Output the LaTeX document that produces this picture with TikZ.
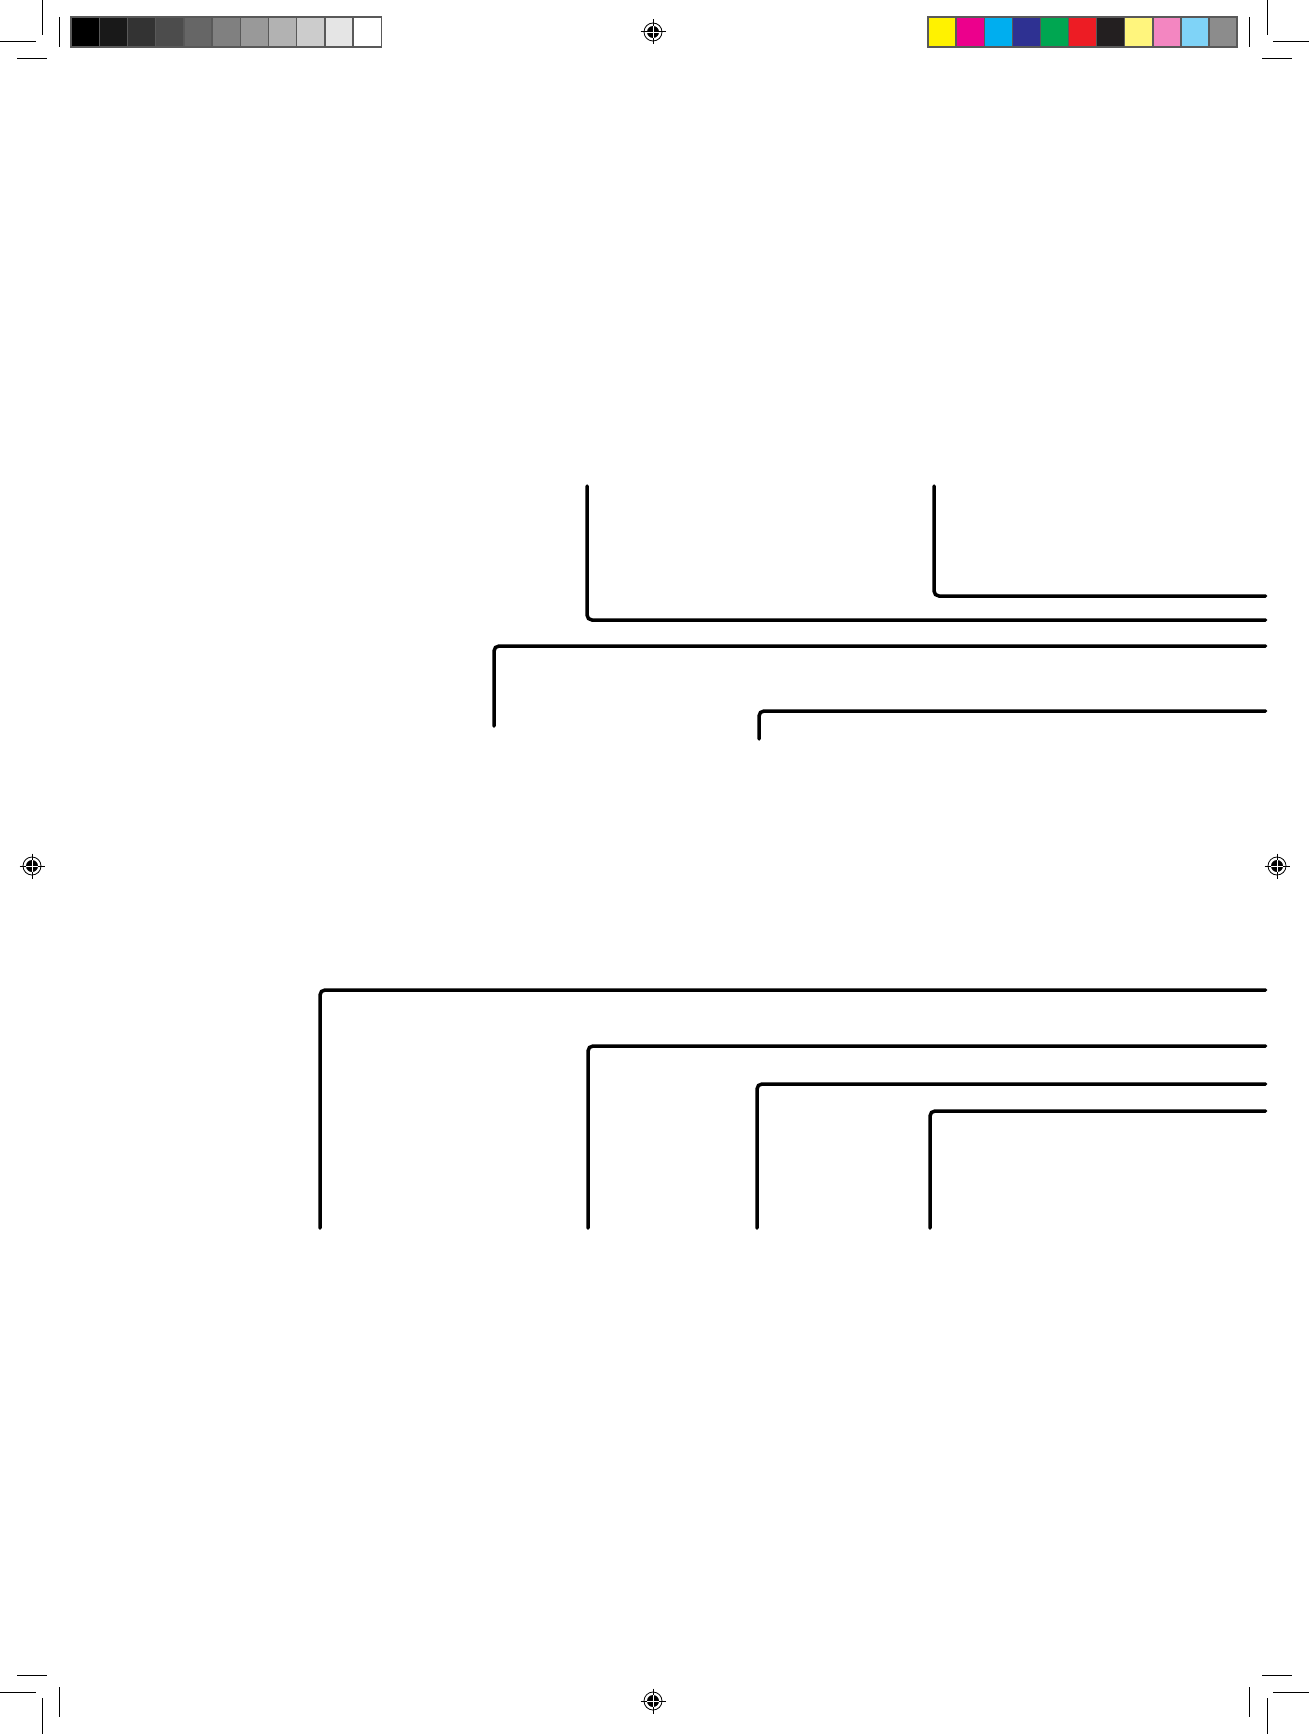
\documentclass[tikz,border=0pt]{standalone}
\begin{document}
\begin{tikzpicture}[x=1pt,y=-1pt,
  leader/.style={line width=3.5pt, rounded corners=5pt, line cap=round},
  crop/.style={line width=1pt},
  swatch/.style={draw=black!65, line width=1.4pt},
  regmark/.pic={
    \draw[line width=0.8pt] (0,0) circle (9pt);
    \fill (0,0) circle (6pt);
    \draw[line width=1pt] (-12.5,0)--(12.5,0) (0,-12.5)--(0,12.5);
    \draw[white, line width=0.7pt] (-6,0)--(6,0) (0,-6)--(0,6);
  }]
\useasboundingbox[fill=white] (0,0) rectangle (1309,1734);

% crop marks top-left
\draw[crop] (42,0)--(42,35) (0,42)--(36,42) (17,59)--(47,59) (59,17)--(59,47);
% crop marks top-right
\draw[crop] (1267,0)--(1267,35) (1273,42)--(1309,42) (1262,59)--(1292,59) (1249,17)--(1249,47);
% crop marks bottom-left
\draw[crop] (42,1698)--(42,1734) (0,1692)--(36,1692) (17,1675)--(47,1675) (59,1687)--(59,1717);
% crop marks bottom-right
\draw[crop] (1267,1698)--(1267,1734) (1273,1692)--(1309,1692) (1262,1675)--(1292,1675) (1249,1687)--(1249,1717);

% grey scale bar
\foreach \i/\c in {0/100,1/90,2/80,3/70,4/60,5/50,6/40,7/30,8/20,9/10,10/0}{
  \filldraw[swatch, fill=black!\c] ({71+\i*28.2},17) rectangle ({71+(\i+1)*28.2},47);
}
% colour bar
\definecolor{cY}{HTML}{FFF200}
\definecolor{cM}{HTML}{EC008C}
\definecolor{cC}{HTML}{00AEEF}
\definecolor{cB}{HTML}{2E3192}
\definecolor{cG}{HTML}{00A651}
\definecolor{cR}{HTML}{ED1C24}
\definecolor{cK}{HTML}{231F20}
\definecolor{cLY}{HTML}{FFF57D}
\definecolor{cLM}{HTML}{F386C1}
\definecolor{cLC}{HTML}{7FD3F7}
\definecolor{cGr}{HTML}{8C8C8C}
\foreach \i/\c in {0/cY,1/cM,2/cC,3/cB,4/cG,5/cR,6/cK,7/cLY,8/cLM,9/cLC,10/cGr}{
  \filldraw[swatch, fill=\c] ({928+\i*28.1},17) rectangle ({928+(\i+1)*28.1},47);
}

% registration marks
\pic at (653,32) {regmark};
\pic at (32,866) {regmark};
\pic at (1277,866) {regmark};
\pic at (653,1701) {regmark};

% upper leader lines
\coordinate (ra) at (1265.5,620);
\coordinate (rb) at (1265.5,596);
\coordinate (rc) at (1265.5,646);
\coordinate (rd) at (1265.5,711);
\draw[leader] (587,486) |- (ra);
\draw[leader] (934,486) |- (rb);
\draw[leader] (494,726) |- (rc);
\draw[leader] (759,739) |- (rd);

% lower leader lines
\coordinate (re) at (1265.5,990);
\coordinate (rf) at (1265.5,1046);
\coordinate (rg) at (1265.5,1084);
\coordinate (rh) at (1265.5,1111);
\draw[leader] (320,1228) |- (re);
\draw[leader] (588,1228) |- (rf);
\draw[leader] (757,1228) |- (rg);
\draw[leader] (930,1228) |- (rh);
\end{tikzpicture}
\end{document}
